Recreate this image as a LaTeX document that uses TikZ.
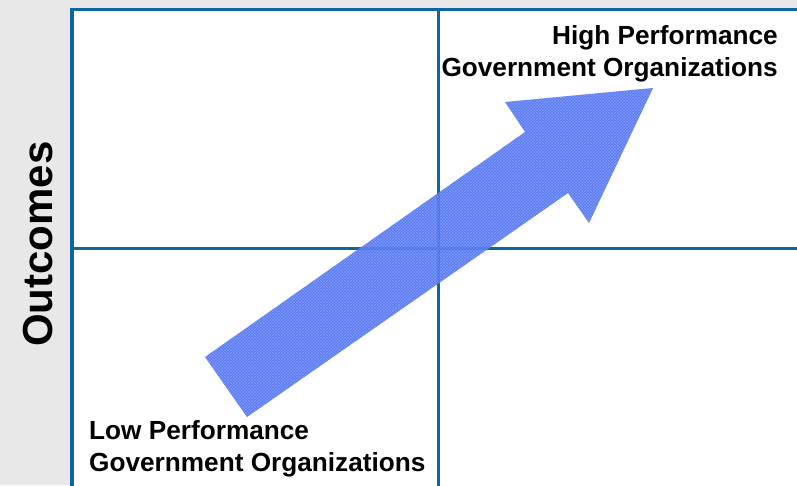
\documentclass[tikz,border=0pt]{standalone}
\usepackage{fontspec}
\setmainfont{Liberation Sans}
\usepackage{tikz}
\usetikzlibrary{patterns}
\definecolor{frameblue}{RGB}{10,104,158}
\definecolor{panelgrey}{RGB}{232,232,232}
\definecolor{arrowblue}{RGB}{66,104,242}

\begin{document}
\begin{tikzpicture}[x=1pt,y=-1pt,
    label/.style={font=\bfseries\fontsize{26.2}{31.5}\selectfont, inner sep=0pt}]
\useasboundingbox (0,0) rectangle (797,485);
\fill[panelgrey] (0,0) rectangle (797,485);

% quadrant frame
\fill[white] (72,9.5) rectangle (797,485);
\draw[frameblue, line width=3.5] (72,490) -- (72,9.5) -- (800,9.5);
\draw[frameblue, line width=3] (438,9.5) -- (438,490);
\draw[frameblue, line width=3] (72,248) -- (800,248);

% big arrow
\coordinate (tailA) at (205,357);
\coordinate (tailB) at (247,417);
\coordinate (notchA) at (525,132);
\coordinate (barbA) at (505,102);
\coordinate (tip) at (653,88);
\coordinate (barbB) at (589,223);
\coordinate (notchB) at (568,193);
\fill[arrowblue, opacity=0.9] (tailA) -- (notchA) -- (barbA) -- (tip) -- (barbB) -- (notchB) -- (tailB) -- cycle;
\fill[pattern=crosshatch, pattern color=white, opacity=0.25] (tailA) -- (notchA) -- (barbA) -- (tip) -- (barbB) -- (notchB) -- (tailB) -- cycle;

\node[label, anchor=base east, align=right] (high) at (778,76) {High Performance\\Government Organizations};
\node[label, anchor=base west, align=left] (low) at (89,471) {Low Performance\\Government Organizations};
\node[font=\bfseries\fontsize{42}{42}\selectfont, inner sep=0pt, rotate=90] (outcomes) at (38,244) {Outcomes};
\end{tikzpicture}
\end{document}
